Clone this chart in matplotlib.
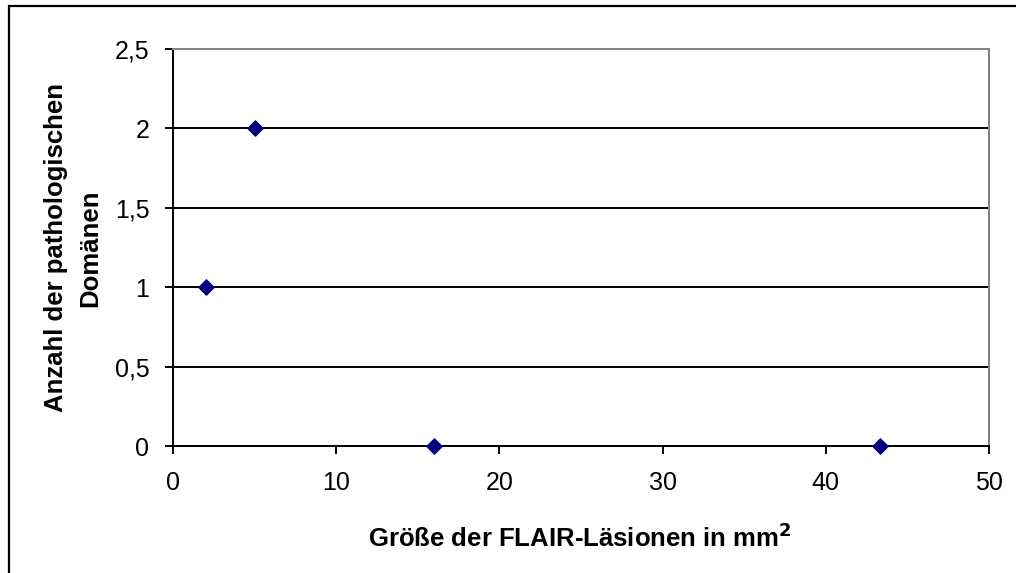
import matplotlib
matplotlib.use("Agg")
import matplotlib.pyplot as plt
from matplotlib.patches import Rectangle
from matplotlib.ticker import FuncFormatter

plt.rcParams['font.family'] = ['Liberation Sans', 'DejaVu Sans']

lesion_size = [2.0, 5.0, 16.0, 43.3]
domains = [1, 2, 0, 0]
x_ticks = [0, 10, 20, 30, 40, 50]
y_ticks = [0, 0.5, 1, 1.5, 2, 2.5]

fig = plt.figure(figsize=(10.16, 5.73), dpi=100)
fig.patches.append(Rectangle((9/1016, -0.1), 1.2, 1 - 6/573 + 0.1, transform=fig.transFigure,
                             fill=False, edgecolor='black', linewidth=1.6))

ax = fig.add_axes([173/1016, 1 - 446/573, 816/1016, 397/573])
ax.set_xlim(0, 50)
ax.set_ylim(0, 2.5)
ax.set_xticks(x_ticks)
ax.set_yticks(y_ticks)
ax.yaxis.set_major_formatter(FuncFormatter(lambda v, p: ('%g' % v).replace('.', ',')))

for y in y_ticks[1:-1]:
    ax.axhline(y, color='black', linewidth=1.4, zorder=1)

ax.spines['top'].set_color('#808080')
ax.spines['right'].set_color('#808080')
ax.spines['top'].set_linewidth(1.4)
ax.spines['right'].set_linewidth(1.4)
ax.spines['left'].set_linewidth(1.4)
ax.spines['bottom'].set_linewidth(1.4)

ax.tick_params(axis='both', direction='out', length=6, width=1.4, labelsize=18)
ax.tick_params(axis='y', pad=11)
ax.tick_params(axis='x', pad=12)

ax.scatter(lesion_size, domains, marker='D', s=60, color='#000080', zorder=3, clip_on=False)

fig.text(580/1016, 1 - 538/573, 'Größe der FLAIR-Läsionen in mm$^\\mathbf{2}$', ha='center', va='center',
         fontsize=18.5, fontweight='bold')
fig.text(73/1016, 1 - 248/573, 'Anzahl der pathologischen\nDomänen', rotation=90, ha='center', va='center',
         fontsize=18.5, fontweight='bold', multialignment='center', linespacing=1.55)

fig.savefig('out.png', dpi=100)
